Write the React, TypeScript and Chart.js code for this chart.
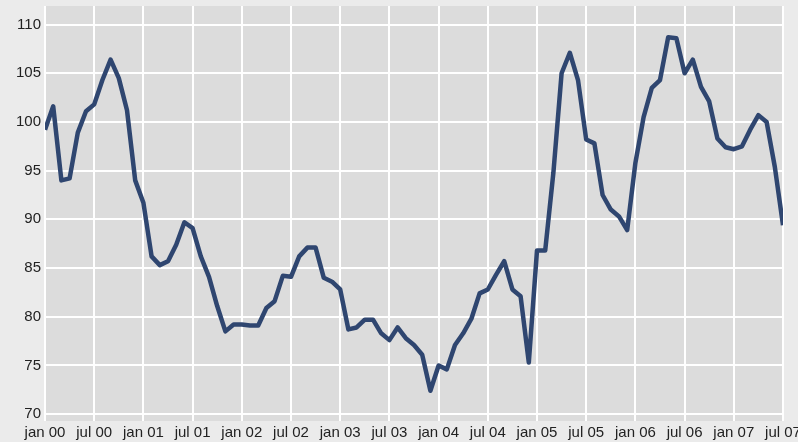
import React, { useEffect, useRef } from "react";
import { Chart, registerables } from "chart.js";

Chart.register(...registerables);

const tickLabels = [
  "jan 00", "jul 00", "jan 01", "jul 01", "jan 02", "jul 02", "jan 03", "jul 03",
  "jan 04", "jul 04", "jan 05", "jul 05", "jan 06", "jul 06", "jan 07", "jul 07",
];

const yTicks = [70, 75, 80, 85, 90, 95, 100, 105, 110];

// Monthly values, jan 2000 .. jul 2007
const values = [
  99.2, 101.6, 94.0, 94.2, 98.9, 101.1, 101.8, 104.3, 106.4, 104.5, 101.2, 94.0,
  91.7, 86.2, 85.3, 85.7, 87.4, 89.7, 89.1, 86.2, 84.1, 81.1, 78.5, 79.2,
  79.2, 79.1, 79.1, 80.9, 81.6, 84.2, 84.1, 86.2, 87.1, 87.1, 84.0, 83.6,
  82.8, 78.7, 78.9, 79.7, 79.7, 78.3, 77.6, 78.9, 77.8, 77.1, 76.1, 72.4,
  75.0, 74.6, 77.1, 78.3, 79.8, 82.4, 82.8, 84.3, 85.7, 82.8, 82.1, 75.3,
  86.8, 86.8, 94.8, 105.0, 107.1, 104.3, 98.2, 97.8, 92.5, 91.0, 90.3, 88.9,
  95.8, 100.5, 103.5, 104.3, 108.7, 108.6, 105.0, 106.4, 103.6, 102.1, 98.3, 97.4,
  97.2, 97.5, 99.2, 100.7, 100.0, 95.4, 89.4,
];

const plotBg = {
  id: "plotBg",
  beforeDraw(chart: any) {
    const { ctx, chartArea, width, height } = chart;
    ctx.save();
    ctx.fillStyle = "#ebebeb";
    ctx.fillRect(0, 0, width, height);
    ctx.fillStyle = "#dcdcdc";
    ctx.fillRect(chartArea.left, chartArea.top, chartArea.right - chartArea.left, chartArea.bottom - chartArea.top);
    ctx.restore();
  },
};

export default function App() {
  const ref = useRef<HTMLCanvasElement | null>(null);
  useEffect(() => {
    document.body.style.margin = "0";
    const font = { family: "'Liberation Sans', Arial, sans-serif", size: 15 };
    const chart = new Chart(ref.current as HTMLCanvasElement, {
      type: "line",
      data: {
        datasets: [
          {
            data: values.map((v, i) => ({ x: i, y: v })),
            borderColor: "#2f4670",
            borderWidth: 4.5,
            borderJoinStyle: "round",
            pointRadius: 0,
            tension: 0,
            fill: false,
          },
        ],
      },
      options: {
        animation: false,
        responsive: true,
        maintainAspectRatio: false,
        layout: { padding: { top: 6, right: 15, left: 0, bottom: 0 } },
        plugins: { legend: { display: false }, tooltip: { enabled: false } },
        scales: {
          x: {
            type: "linear",
            min: 0,
            max: 90,
            afterBuildTicks: (s: any) => {
              s.ticks = tickLabels.map((_, i) => ({ value: i * 6 }));
            },
            afterFit: (s: any) => {
              s.height = 21;
              s.paddingLeft = 0;
              s.paddingRight = 0;
            },
            ticks: {
              autoSkip: false,
              maxRotation: 0,
              padding: 3,
              color: "#222",
              font,
              callback: (v: any) => tickLabels[Math.round(Number(v) / 6)] ?? "",
            },
            grid: { color: "#ffffff", lineWidth: 2, drawTicks: false },
            border: { display: false },
          },
          y: {
            type: "linear",
            min: 69.3,
            max: 111.9,
            afterBuildTicks: (s: any) => {
              s.ticks = yTicks.map((v) => ({ value: v }));
            },
            afterFit: (s: any) => {
              s.width = 45;
              s.paddingTop = 0;
              s.paddingBottom = 0;
            },
            ticks: { padding: 4, color: "#222", font },
            grid: { color: "#ffffff", lineWidth: 2, drawTicks: false },
            border: { display: false },
          },
        },
      },
      plugins: [plotBg],
    });
    return () => chart.destroy();
  }, []);
  return (
    <div style={{ width: 798, height: 442, position: "relative" }}>
      <canvas ref={ref} />
    </div>
  );
}
